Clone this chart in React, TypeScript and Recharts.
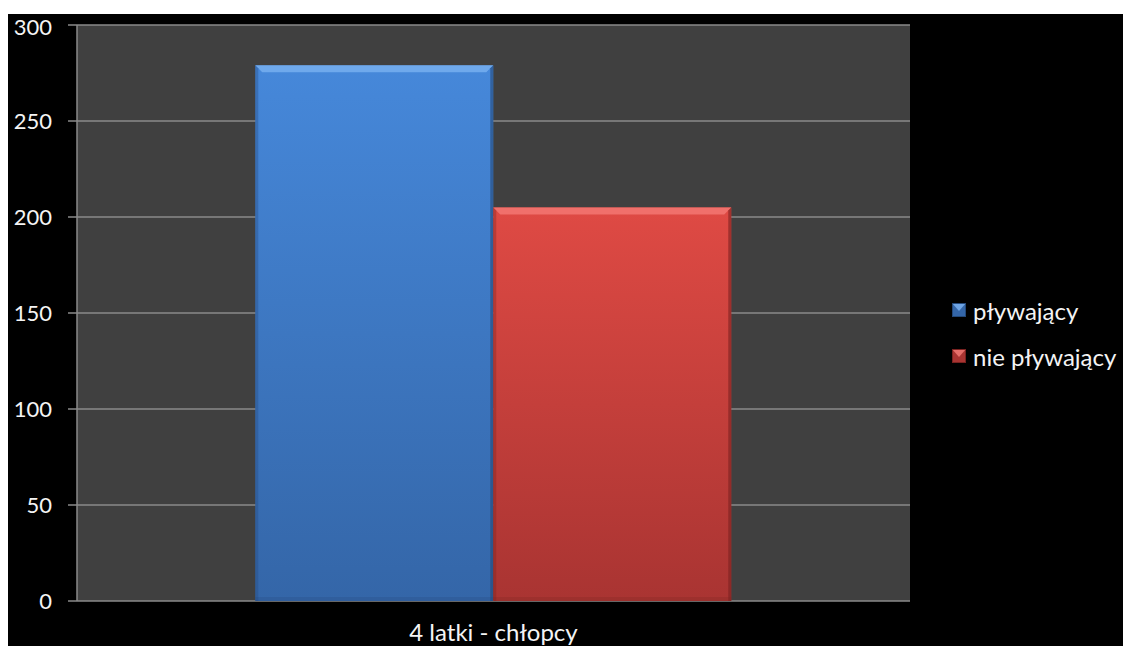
import React from "react"
import { BarChart, Bar, XAxis, YAxis, CartesianGrid, Legend } from "recharts"

// Chart data
const categories = ["4 latki - chłopcy"]
const swimmingCounts = [279]
const nonSwimmingCounts = [205]
const seriesNames = ["pływający", "nie pływający"]
const yTicks = [0, 50, 100, 150, 200, 250, 300]

const data = categories.map((name, i) => ({
  name,
  swimming: swimmingCounts[i],
  nonSwimming: nonSwimmingCounts[i],
}))

const FONT = "Lato, 'Open Sans', sans-serif"
const AXIS_GRAY = "#8a8a8a"
const TEXT = "#f4f4f4"

const TONES: Record<string, { top: string; bottom: string; light: string; dark: string }> = {
  blue: { top: "#4688da", bottom: "#3466a8", light: "#7db4f2", dark: "#24497a" },
  red: { top: "#df4a44", bottom: "#a93432", light: "#f57d78", dark: "#7a2220" },
}

function BevelBar(props: any) {
  const { x, y, width, height, tone } = props
  if (!height || height <= 0) return null
  const b = 7
  const t = TONES[tone]
  return (
    <g>
      <rect x={x} y={y} width={width} height={height} fill={`url(#grad-${tone})`} />
      {/* top bevel */}
      <polygon
        points={`${x},${y} ${x + width},${y} ${x + width - b},${y + b} ${x + b},${y + b}`}
        fill={t.light}
        opacity={0.75}
      />
      {/* right edge */}
      <polygon
        points={`${x + width},${y} ${x + width},${y + height} ${x + width - 3},${y + height} ${x + width - 3},${y + 3}`}
        fill={t.dark}
        opacity={0.6}
      />
      {/* left edge */}
      <polygon
        points={`${x},${y} ${x + 3},${y + 3} ${x + 3},${y + height} ${x},${y + height}`}
        fill={t.dark}
        opacity={0.35}
      />
      <rect x={x} y={y + height - 4} width={width} height={4} fill={t.dark} opacity={0.25} />
    </g>
  )
}

function LegendMarker({ tone }: { tone: string }) {
  const t = TONES[tone]
  return (
    <svg width={14} height={14} style={{ marginRight: 7, flex: "none" }}>
      <rect x={0} y={0} width={14} height={14} fill={t.bottom} />
      <polygon points="0,0 14,0 7,8" fill={t.light} opacity={0.8} />
      <rect x={0.5} y={0.5} width={13} height={13} fill="none" stroke={t.dark} strokeWidth={1} />
    </svg>
  )
}

function LegendBox() {
  const tones = ["blue", "red"]
  return (
    <div style={{ fontFamily: FONT, fontSize: 24, color: TEXT, whiteSpace: "nowrap" }}>
      {seriesNames.map((n, i) => (
        <div key={n} style={{ display: "flex", alignItems: "center", height: 46 }}>
          <LegendMarker tone={tones[i]} />
          <span>{n}</span>
        </div>
      ))}
    </div>
  )
}

function CategoryTick({ x, y, payload }: any) {
  return (
    <text x={x} y={y + 40} textAnchor="middle" fill={TEXT} fontSize={24} fontFamily={FONT}>
      {payload.value}
    </text>
  )
}

export default function App() {
  return (
    <div style={{ position: "fixed", left: 8, top: 14, right: 0, bottom: 0, background: "#000" }}>
      <BarChart
        width={1115}
        height={632}
        data={data}
        margin={{ top: 11, right: 213, left: 0, bottom: 0 }}
        barCategoryGap="21.4%"
        barGap={0}
      >
        <defs>
          {Object.entries(TONES).map(([k, t]) => (
            <linearGradient key={k} id={`grad-${k}`} x1="0" y1="0" x2="0" y2="1">
              <stop offset="0%" stopColor={t.top} />
              <stop offset="100%" stopColor={t.bottom} />
            </linearGradient>
          ))}
        </defs>
        <CartesianGrid
          xAxisId="cat"
          vertical={false}
          stroke={AXIS_GRAY}
          strokeWidth={1.5}
          fill="#404040"
          fillOpacity={1}
        />
        {/* boundary tick marks at the plot edges */}
        <XAxis
          xAxisId="edge"
          type="number"
          domain={[0, 1]}
          ticks={[0, 1]}
          allowDataOverflow
          height={0}
          tickSize={10}
          tick={{ fill: "transparent" }}
          axisLine={{ stroke: AXIS_GRAY, strokeWidth: 2 }}
          tickLine={{ stroke: AXIS_GRAY, strokeWidth: 1.5 }}
        />
        <XAxis
          xAxisId="cat"
          dataKey="name"
          height={45}
          axisLine={false}
          tickLine={false}
          tickSize={0}
          tickMargin={0}
          tick={<CategoryTick />}
        />
        <YAxis
          domain={[0, 300]}
          ticks={yTicks}
          width={69}
          tickSize={9}
          tickMargin={16}
          axisLine={{ stroke: AXIS_GRAY, strokeWidth: 1.5 }}
          tickLine={{ stroke: AXIS_GRAY, strokeWidth: 1.5 }}
          tick={{ fill: TEXT, fontSize: 22, fontFamily: FONT }}
        />
        <Legend
          layout="horizontal"
          verticalAlign="middle"
          content={<LegendBox />}
          wrapperStyle={{ left: 944, top: 273, width: 171, height: 92 }}
        />
        <Bar
          xAxisId="cat"
          dataKey="swimming"
          name={seriesNames[0]}
          isAnimationActive={false}
          shape={(p: any) => <BevelBar {...p} tone="blue" />}
        />
        <Bar
          xAxisId="cat"
          dataKey="nonSwimming"
          name={seriesNames[1]}
          isAnimationActive={false}
          shape={(p: any) => <BevelBar {...p} tone="red" />}
        />
      </BarChart>
    </div>
  )
}
